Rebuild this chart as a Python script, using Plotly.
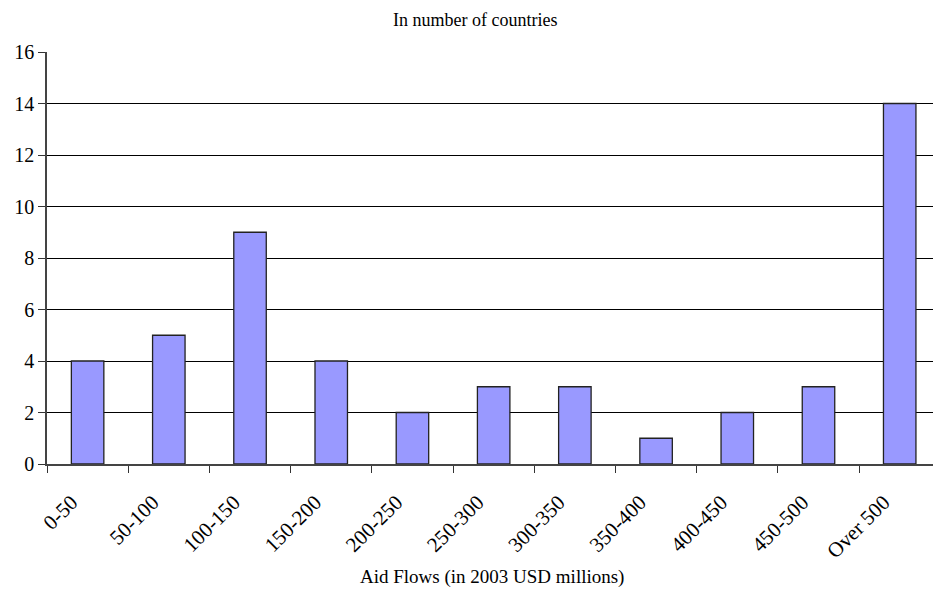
import plotly.graph_objects as go

# Distribution of recipient countries by size of aid flows
categories = ["0-50", "50-100", "100-150", "150-200", "200-250", "250-300",
              "300-350", "350-400", "400-450", "450-500", "Over 500"]
countries = [4, 5, 9, 4, 2, 3, 3, 1, 2, 3, 14]
y_ticks = [0, 2, 4, 6, 8, 10, 12, 14, 16]

FONT = "Liberation Serif, Times New Roman, serif"

fig = go.Figure(
    go.Bar(
        x=categories,
        y=countries,
        width=0.4,
        marker=dict(color="#9999FF", line=dict(color="#222222", width=1.3)),
    )
)

fig.update_layout(
    width=933,
    height=595,
    margin=dict(l=47, r=0, t=52, b=131),
    paper_bgcolor="white",
    plot_bgcolor="white",
    showlegend=False,
    font=dict(family=FONT, size=20, color="black"),
    xaxis=dict(
        type="category",
        range=[-0.5, 10.41],
        tickangle=-45,
        tickson="boundaries",
        ticks="outside",
        ticklen=7,
        tickcolor="#333333",
        ticklabelstandoff=16,
        ticklabelshift=-16,
        showline=True,
        linecolor="#444444",
        linewidth=1.5,
        showgrid=False,
        zeroline=False,
        tickfont=dict(size=21),
    ),
    yaxis=dict(
        range=[0, 16],
        tickvals=y_ticks,
        ticks="outside",
        ticklen=7,
        tickcolor="#333333",
        showline=True,
        linecolor="#444444",
        linewidth=1.5,
        showgrid=True,
        gridcolor="black",
        gridwidth=1,
        zeroline=False,
        tickfont=dict(size=20),
    ),
    annotations=[
        dict(text="In number of countries", x=(475 - 47) / 886, y=1.0,
             xref="paper", yref="paper", yanchor="middle", yshift=32,
             showarrow=False, font=dict(size=18)),
        dict(text="Aid Flows (in 2003 USD millions)", x=(492 - 47) / 886, y=0.0,
             xref="paper", yref="paper", yanchor="middle", yshift=-113,
             showarrow=False, font=dict(size=19)),
    ],
)

fig.write_html("out.html")
